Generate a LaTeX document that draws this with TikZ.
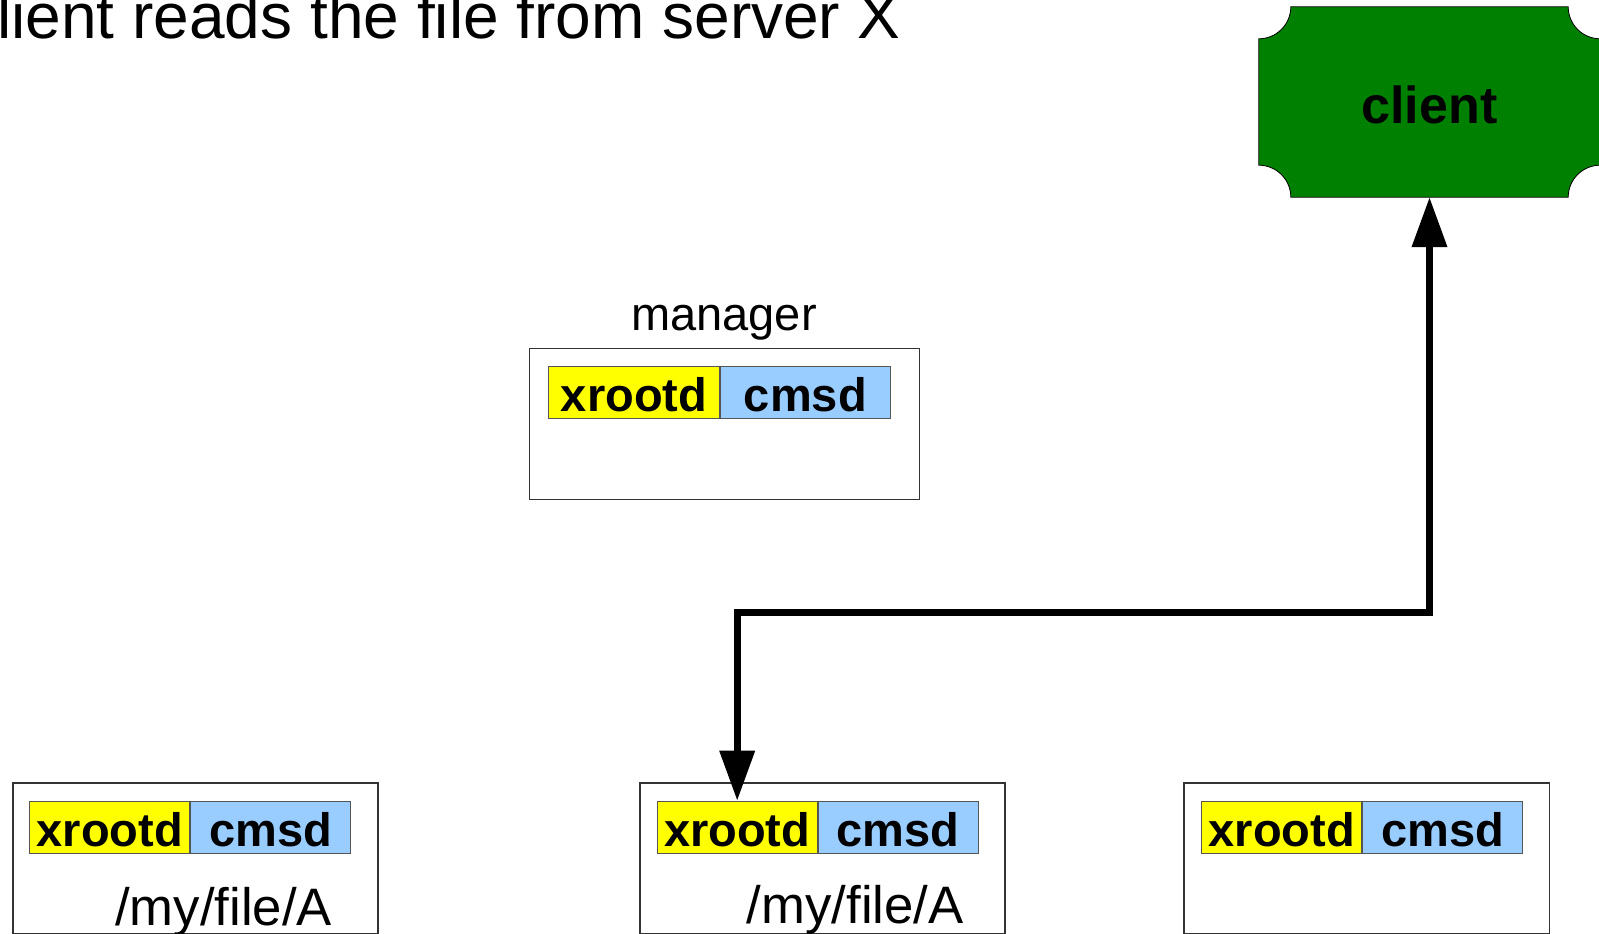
\documentclass[tikz,border=0pt]{standalone}
\usepackage{fontspec}
\setmainfont{Liberation Sans}
\usetikzlibrary{arrows.meta,backgrounds}

\definecolor{xyellow}{HTML}{FFFF00}
\definecolor{xblue}{HTML}{99CCFF}
\definecolor{clientgreen}{HTML}{008000}
\definecolor{hostline}{HTML}{333333}
\definecolor{cellline}{HTML}{555555}

\newcommand\daemonfont{\bfseries\fontsize{47}{50}\selectfont}
\newcommand\pathfont{\fontsize{52.7}{56}\selectfont}

\tikzset{
  host/.style={draw=hostline, line width=1.2pt, fill=white,
    minimum width=365pt, minimum height=151pt, inner sep=0pt, anchor=north west},
  daemon/.style={draw=cellline, line width=1pt, minimum height=52pt,
    inner sep=0pt, font=\daemonfont, text height=37.7pt, text depth=0pt},
  xrd/.style={daemon, fill=xyellow, minimum width=160pt, anchor=north west},
  cms/.style={daemon, fill=xblue, minimum width=160pt, anchor=west},
  filelabel/.style={font=\pathfont, inner sep=0pt, anchor=base west},
  flow/.style={line width=7pt, {Triangle[length=50pt,width=34pt]}-{Triangle[length=50pt,width=34pt]}},
}

\begin{document}
\begin{tikzpicture}[x=1pt,y=1pt]
\useasboundingbox (0,0) rectangle (1599,-934);

% heading
\node[font=\fontsize{64}{70}\selectfont, inner sep=0pt, anchor=base east]
  (title) at (901,-39) {lient reads the file from server X};

% client
\node[font=\bfseries\fontsize{52}{56}\selectfont, minimum width=341pt,
  minimum height=190pt, inner sep=0pt, text height=43pt, text depth=0pt]
  (client) at (1429.5,-102) {client};
\begin{scope}[on background layer]
\filldraw[fill=clientgreen, draw=black, line width=0.8pt]
  ([xshift=32pt]client.north west) -- ([xshift=-32pt]client.north east)
  arc[start angle=180, end angle=270, radius=32pt]
  -- ([yshift=32pt]client.south east)
  arc[start angle=90, end angle=180, radius=32pt]
  -- ([xshift=32pt]client.south west)
  arc[start angle=0, end angle=90, radius=32pt]
  -- ([yshift=-32pt]client.north west)
  arc[start angle=270, end angle=360, radius=32pt] -- cycle;
\end{scope}

% manager
\node[host, minimum width=390pt] (mgr) at (529,-348) {};
\node[font=\fontsize{47}{50}\selectfont, inner sep=0pt, anchor=base]
  (mgrlabel) at (724,-330.7) {manager};
\node[xrd, minimum width=170.4pt] (xrM) at (548.3,-366) {xrootd};
\node[cms, minimum width=170.3pt] (cmM) at (xrM.east) {cmsd};

% data servers
\node[host] (srvA) at (12.3,-782.3) {};
\node[xrd] (xrA) at (29.3,-800.7) {xrootd};
\node[cms] (cmA) at (xrA.east) {cmsd};
\node[filelabel] (fileA) at (115,-925) {/my/file/A};

\node[host, minimum height=150.4pt] (srvB) at (639.3,-782.3) {};
\node[xrd] (xrB) at (656.7,-800.7) {xrootd};
\node[cms] (cmB) at (xrB.east) {cmsd};
\node[filelabel] (fileB) at (746.7,-923.3) {/my/file/A};

\node[host, minimum width=365.7pt] (srvC) at (1183.3,-782.3) {};
\node[xrd] (xrC) at (1201.3,-800.7) {xrootd};
\node[cms] (cmC) at (xrC.east) {cmsd};

% data path between server and client
\draw[flow] (xrB.north) -- ++(0,188.7) -| (client.south);
\end{tikzpicture}
\end{document}
